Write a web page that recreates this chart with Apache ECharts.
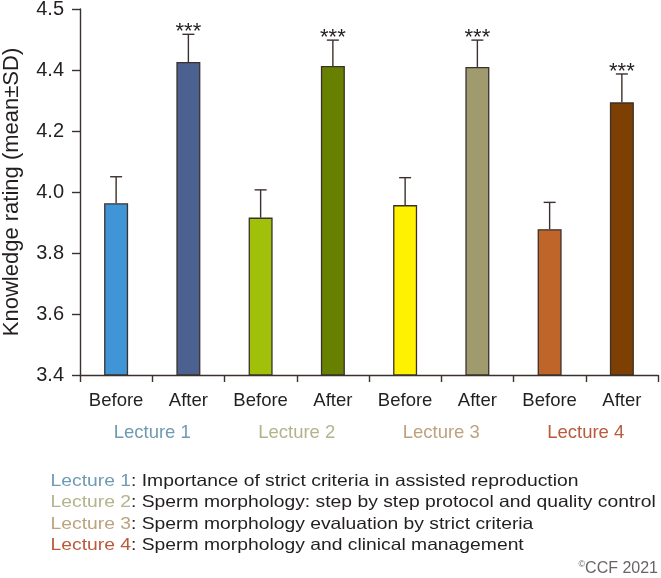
<!DOCTYPE html>
<html>
<head>
<meta charset="utf-8">
<script src="https://cdn.jsdelivr.net/npm/echarts@6/dist/echarts.min.js"></script>
<style>
  html, body { margin: 0; padding: 0; background: #ffffff; }
  #chart { width: 661px; height: 578px; }
</style>
</head>
<body>
<div id="chart"></div>
<script>
// ---- data ----
const categories = ['Before', 'After', 'Before', 'After', 'Before', 'After', 'Before', 'After'];
const means = [3.963, 4.426, 3.916, 4.413, 3.957, 4.410, 3.878, 4.294];
const sds = [0.087, 0.091, 0.091, 0.085, 0.090, 0.088, 0.088, 0.093];
const significance = ['', '***', '', '***', '', '***', '', '***'];
const lectures = ['Lecture 1', 'Lecture 2', 'Lecture 3', 'Lecture 4'];
const lectureTopics = [
  'Importance of strict criteria in assisted reproduction',
  'Sperm morphology: step by step protocol and quality control',
  'Sperm morphology evaluation by strict criteria',
  'Sperm morphology and clinical management'
];
const yTickLabels = ['3.4', '3.6', '3.8', '4.0', '4.2', '4.4', '4.5'];
const copyrightText = 'CCF 2021';

// ---- styles ----
const barColors = ['#3f95d5', '#4b6290', '#a0c00a', '#678000', '#fff200', '#a09b6f', '#bf6529', '#7e3f02'];
const lectureColors = ['#6f9ab3', '#b3b48b', '#bda27f', '#b95a3b'];
const ink = '#231f20';
const lineCol = '#3b302d';
const FONT = '"Liberation Sans", Arial, Helvetica, sans-serif';

const chart = echarts.init(document.getElementById('chart'), null, { renderer: 'canvas' });

const errData = means.map((m, i) => [i, m, sds[i]]);

const legendRich = { t: { fill: ink, fontSize: 16.5, fontFamily: FONT } };
lectureColors.forEach((c, i) => {
  legendRich['l' + i] = { fill: c, fontSize: 16.5, fontFamily: FONT };
});
const legendY = [481, 502.5, 524, 545.5];
const legendGraphics = lectures.map((lec, i) => ({
  type: 'text',
  x: 50.5,
  y: legendY[i],
  scaleX: 1.17,
  style: {
    text: '{l' + i + '|' + lec + '}{t|: ' + lectureTopics[i] + '}',
    rich: legendRich,
    fontSize: 16.5,
    fontFamily: FONT,
    verticalAlign: 'middle',
    align: 'left'
  }
}));

const option = {
  animation: false,
  backgroundColor: '#ffffff',
  grid: { left: 80, right: 3, top: 9, bottom: 203, containLabel: false, outerBoundsMode: 'none' },
  xAxis: [
    {
      type: 'category',
      data: categories,
      position: 'bottom',
      axisLine: { show: true, lineStyle: { color: lineCol, width: 1.4 } },
      axisTick: { show: true, length: 7, alignWithLabel: false, lineStyle: { color: lineCol, width: 1.4 } },
      axisLabel: { color: ink, fontSize: 18.5, fontFamily: FONT, margin: 16 },
      splitLine: { show: false }
    },
    {
      type: 'category',
      data: lectures,
      position: 'bottom',
      offset: 32,
      axisLine: { show: false },
      axisTick: { show: false },
      axisLabel: {
        fontSize: 18.5, fontFamily: FONT, margin: 16,
        color: (v, idx) => lectureColors[idx]
      },
      splitLine: { show: false }
    }
  ],
  yAxis: {
    type: 'value',
    min: 3.4,
    max: 4.6,
    interval: 0.2,
    name: 'Knowledge rating (mean±SD)',
    nameLocation: 'middle',
    nameRotate: 90,
    nameGap: 57,
    nameTextStyle: { color: ink, fontSize: 22, fontFamily: FONT },
    axisLine: { show: true, lineStyle: { color: lineCol, width: 1.4 } },
    axisTick: { show: true, length: 8, inside: false, lineStyle: { color: lineCol, width: 1.4 } },
    axisLabel: {
      color: ink, fontSize: 20, fontFamily: FONT, margin: 16,
      showMaxLabel: true, showMinLabel: true,
      formatter: (v, idx) => yTickLabels[idx]
    },
    splitLine: { show: false }
  },
  series: [
    {
      type: 'bar',
      xAxisIndex: 0,
      barWidth: 24,
      data: means.map((m, i) => ({
        value: m,
        itemStyle: { color: barColors[i], borderColor: lineCol, borderWidth: 1.3 }
      })),
      z: 2
    },
    {
      type: 'custom',
      xAxisIndex: 0,
      data: errData,
      encode: { x: 0, y: 1 },
      z: 3,
      renderItem: function (params, api) {
        const i = api.value(0);
        const m = api.value(1);
        const sd = api.value(2);
        const p0 = api.coord([i, m]);
        const p1 = api.coord([i, m + sd]);
        const hw = 6;
        const children = [
          { type: 'line', shape: { x1: p0[0], y1: p0[1], x2: p1[0], y2: p1[1] },
            style: { stroke: lineCol, lineWidth: 1.4 } },
          { type: 'line', shape: { x1: p1[0] - hw, y1: p1[1], x2: p1[0] + hw, y2: p1[1] },
            style: { stroke: lineCol, lineWidth: 1.4 } }
        ];
        const sig = significance[params.dataIndex];
        if (sig) {
          children.push({
            type: 'text',
            x: p1[0],
            y: p1[1] - 2,
            style: {
              text: sig, fill: ink, fontSize: 22, fontFamily: FONT,
              align: 'center', verticalAlign: 'middle'
            }
          });
        }
        return { type: 'group', children: children };
      }
    }
  ],
  graphic: legendGraphics.concat([
    {
      type: 'text',
      x: 658,
      y: 568.5,
      style: {
        text: '{c|©}{t|' + copyrightText + '}',
        rich: {
          c: { fill: '#6a6464', fontSize: 9, fontFamily: FONT, verticalAlign: 'top', padding: [0, 0, 8, 0] },
          t: { fill: '#6a6464', fontSize: 16, fontFamily: FONT }
        },
        align: 'right',
        verticalAlign: 'middle'
      }
    }
  ])
};

chart.setOption(option);
</script>
</body>
</html>
